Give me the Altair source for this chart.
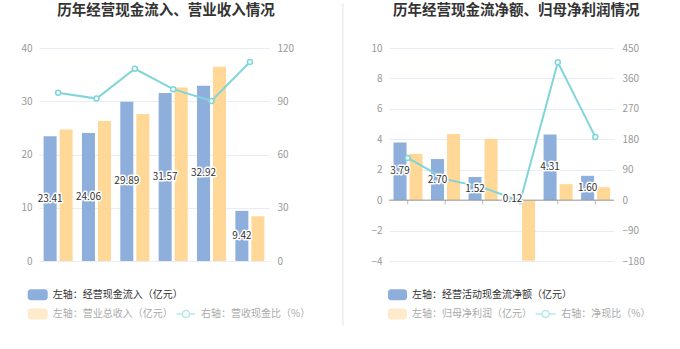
import altair as alt
import pandas as pd

years = ["2019", "2020", "2021", "2022", "2023", "2024Q1"]
# left panel
cash_in = [23.41, 24.06, 29.89, 31.57, 32.92, 9.42]
revenue = [24.7, 26.3, 27.6, 32.6, 36.5, 8.4]
cash_rev_ratio = [94.8, 91.5, 108.3, 96.8, 90.2, 112.1]
# right panel
net_cash = [3.79, 2.70, 1.52, 0.12, 4.31, 1.60]
net_profit = [3.04, 4.35, 4.03, -3.98, 1.05, 0.85]
net_ratio = [124.7, 62.1, 37.7, -3.0, 408.0, 187.0]

left_title = "历年经营现金流入、营业收入情况"
right_title = "历年经营现金流净额、归母净利润情况"
left_legend = ["左轴：经营现金流入（亿元）", "左轴：营业总收入（亿元）", "右轴：营收现金比（%）"]
right_legend = ["左轴：经营活动现金流净额（亿元）", "左轴：归母净利润（亿元）", "右轴：净现比（%）"]

FONT = "Noto Sans CJK SC"
BLUE = "#8EAEDC"
ORANGE = "#FFD797"
TEAL = "#7FD5D9"
GRID = "#E8ECF4"
LBL = "#999999"
PLOT_H = 213

one = pd.DataFrame({"k": [0]})


def build_panel(blue_vals, orange_vals, ratio_vals, ydom, yvals, rdom, rvals,
                title, title_x, legend, leg_pos, width, zero_line, divider_x=None):
    bars = pd.DataFrame({
        "year": years * 2,
        "series": ["a"] * 6 + ["b"] * 6,
        "value": blue_vals + orange_vals,
    })
    labels = pd.DataFrame({
        "year": years,
        "series": ["a"] * 6,
        "mid": [v / 2 for v in blue_vals],
        "label": [f"{v:.2f}" for v in blue_vals],
    })
    ratio = pd.DataFrame({"year": years, "ratio": ratio_vals})

    xscale = alt.Scale(domain=years, paddingInner=0.243, paddingOuter=0.12)
    xoscale = alt.Scale(domain=["a", "b"], paddingInner=0.1875, paddingOuter=0)
    yscale = alt.Scale(domain=ydom, nice=False, zero=False)
    rscale = alt.Scale(domain=rdom, nice=False, zero=False)

    xaxis = alt.Axis(title=None, labelAngle=0, labelColor=LBL, labelFontSize=10,
                     labelFont=FONT, grid=False,
                     domain=not zero_line, domainColor="#999999",
                     ticks=not zero_line, tickColor="#999999", tickSize=4,
                     labelPadding=2)
    xenc = alt.X("year:N", scale=xscale, sort=years, axis=xaxis)
    xenc_n = alt.X("year:N", scale=xscale, sort=years, axis=None)

    bar = alt.Chart(bars).mark_bar().encode(
        x=xenc,
        xOffset=alt.XOffset("series:N", scale=xoscale),
        y=alt.Y("value:Q", scale=yscale,
                axis=alt.Axis(values=yvals, title=None, grid=True, gridColor=GRID,
                              domain=False, ticks=False, labelPadding=7,
                              labelColor=LBL, labelFontSize=10, labelFont=FONT)),
        color=alt.Color("series:N", scale=alt.Scale(domain=["a", "b"], range=[BLUE, ORANGE]),
                        legend=None),
    )
    layers = [bar]
    if zero_line:
        layers.append(alt.Chart(one).mark_rule(color="#999999", strokeWidth=1).encode(
            y=alt.YDatum(0, scale=yscale, axis=None)))
        layers.append(alt.Chart(ratio).mark_tick(orient="vertical", size=4, thickness=1,
                                                 color="#999999", yOffset=2).encode(
            x=xenc_n, y=alt.YDatum(0, scale=yscale, axis=None)))

    line = alt.Chart(ratio).mark_line(
        color=TEAL, strokeWidth=2,
        point=alt.OverlayMarkDef(filled=True, fill="white", stroke=TEAL,
                                 strokeWidth=1.5, size=25)).encode(
        x=xenc_n,
        y=alt.Y("ratio:Q", scale=rscale,
                axis=alt.Axis(orient="right", values=rvals, title=None, grid=False,
                              domain=False, ticks=False, labelPadding=8,
                              labelColor=LBL, labelFontSize=10, labelFont=FONT)),
    )
    layers.append(line)

    for halo in (True, False):
        kw = dict(stroke="white", strokeWidth=3, strokeJoin="round", fill="white") if halo \
            else dict(fill="#333333")
        layers.append(alt.Chart(labels).mark_text(fontSize=10, font=FONT, baseline="middle",
                                                  align="center", **kw).encode(
            x=xenc_n,
            xOffset=alt.XOffset("series:N", scale=xoscale),
            y=alt.Y("mid:Q", scale=yscale, axis=None),
            text="label:N",
        ))

    # title
    layers.append(alt.Chart(one).mark_text(text=title, fontSize=14.5, fontWeight="bold",
                                           color="#333333", font=FONT, align="center",
                                           baseline="middle").encode(
        x=alt.value(title_x), y=alt.value(-36.8)))

    # legend
    sw_x1, sw_x2, t1_x, l_x1, l_x2, c_x, t3_x = leg_pos
    r1, r2 = 246.8, 266.0
    layers.append(alt.Chart(one).mark_rect(color=BLUE, cornerRadius=3).encode(
        x=alt.value(sw_x1), x2=alt.value(sw_x2), y=alt.value(r1 - 5.5), y2=alt.value(r1 + 5.5)))
    layers.append(alt.Chart(one).mark_rect(color="#FFEBCC", cornerRadius=3).encode(
        x=alt.value(sw_x1), x2=alt.value(sw_x2), y=alt.value(r2 - 5.5), y2=alt.value(r2 + 5.5)))
    layers.append(alt.Chart(one).mark_text(text=legend[0], fontSize=10, font=FONT,
                                           color="#333333", align="left", baseline="middle").encode(
        x=alt.value(t1_x), y=alt.value(r1)))
    layers.append(alt.Chart(one).mark_text(text=legend[1], fontSize=10, font=FONT,
                                           color="#AAAAAA", align="left", baseline="middle").encode(
        x=alt.value(t1_x), y=alt.value(r2)))
    layers.append(alt.Chart(one).mark_rule(color="#B6E8EA", strokeWidth=1.5).encode(
        x=alt.value(l_x1), x2=alt.value(l_x2), y=alt.value(r2)))
    layers.append(alt.Chart(one).mark_point(shape="circle", size=50, filled=True, fill="white",
                                            stroke="#B6E8EA", strokeWidth=1.5, opacity=1).encode(
        x=alt.value(c_x), y=alt.value(r2)))
    layers.append(alt.Chart(one).mark_text(text=legend[2], fontSize=10, font=FONT,
                                           color="#AAAAAA", align="left", baseline="middle").encode(
        x=alt.value(t3_x), y=alt.value(r2)))

    if divider_x is not None:
        layers.append(alt.Chart(one).mark_rule(color="#F0F0F0", strokeWidth=2).encode(
            x=alt.value(divider_x), y=alt.value(-44.7), y2=alt.value(277.3)))

    return alt.layer(*layers).resolve_scale(y="independent").properties(
        width=width, height=PLOT_H)


left = build_panel(cash_in, revenue, cash_rev_ratio, [0, 40], [0, 10, 20, 30, 40],
                   [0, 120], [0, 30, 60, 90, 120], left_title, 127, left_legend,
                   (-11.3, 8.7, 13.7, 137.7, 156.3, 147.0, 162.0), 230, False)
right = build_panel(net_cash, net_profit, net_ratio, [-4, 10], [-4, -2, 0, 2, 4, 6, 8, 10],
                    [-180, 450], [-180, -90, 0, 90, 180, 270, 360, 450], right_title, 127.3,
                    right_legend, (-1.0, 18.0, 23.0, 146.6, 166.6, 156.6, 172.3), 225, True,
                    divider_x=-46.2)

chart = alt.hconcat(left, right, spacing=120, bounds="flush").properties(
    padding={"left": 20, "top": 2, "right": 5, "bottom": 5},
    background="white",
).configure_view(stroke=None).configure_text(font=FONT)

chart.save("out.html", embed_options={"renderer": "svg", "actions": False})
